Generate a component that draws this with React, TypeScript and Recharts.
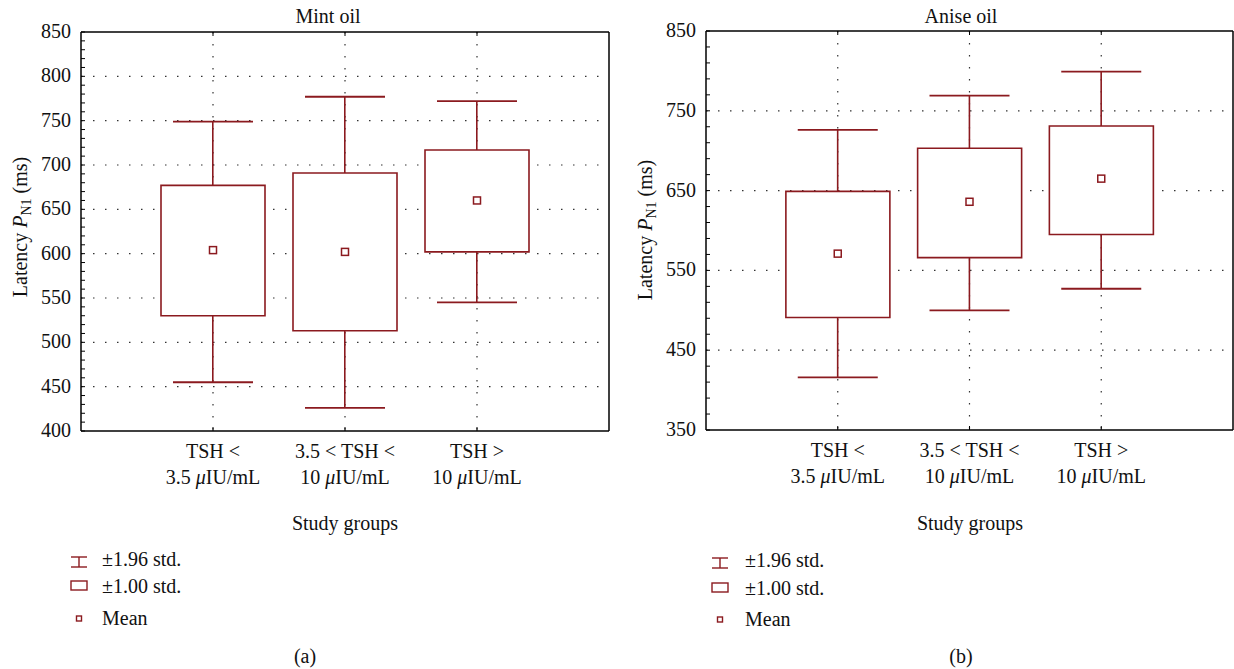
import React from "react";
import { Bar, CartesianGrid, ComposedChart, Scatter, XAxis, YAxis } from "recharts";

// Group positions on the x axis (domain 0..4) and their two-line labels.
const groupX = [1, 2, 3];
const groupLabels = [
  ["TSH <", "3.5 ", "μ", "IU/mL"],
  ["3.5 < TSH <", "10 ", "μ", "IU/mL"],
  ["TSH >", "10 ", "μ", "IU/mL"],
];

// Mint oil: mean, ±1.00 std box, ±1.96 std whiskers (ms).
const mintMean = [604, 602, 660];
const mintStd1Low = [530, 513, 602];
const mintStd1High = [677, 691, 717];
const mintStd196Low = [455, 426, 545];
const mintStd196High = [749, 777, 772];

// Anise oil.
const aniseMean = [571, 636, 665];
const aniseStd1Low = [491, 566, 595];
const aniseStd1High = [649, 703, 731];
const aniseStd196Low = [416, 500, 527];
const aniseStd196High = [726, 769, 799];

const mintTickLabels = [400, 450, 500, 550, 600, 650, 700, 750, 800, 850];
const aniseTickLabels = [350, 450, 550, 650, 750, 850];

const RED = "#8b1a1f";
const FONT = "'Liberation Serif', 'Times New Roman', serif";

function minorTicks(lo: number, hi: number, step: number) {
  const out: number[] = [];
  for (let v = lo; v <= hi; v += step) out.push(v);
  return out;
}

type PanelProps = {
  mean: number[];
  lo1: number[];
  hi1: number[];
  lo196: number[];
  hi196: number[];
  domain: [number, number];
  labels: number[];
  minorStep: number;
  width: number;
  margin: { top: number; right: number; bottom: number; left: number };
};

function Panel({ mean, lo1, hi1, lo196, hi196, domain, labels, minorStep, width, margin }: PanelProps) {
  const data = groupX.map((x, i) => ({ x, box: [lo1[i], hi1[i]], stem: [lo196[i], hi196[i]] }));
  const meanData = groupX.map((x, i) => ({ x, y: mean[i] }));
  const capData = groupX.flatMap((x, i) => [
    { x, y: hi196[i] },
    { x, y: lo196[i] },
  ]);
  const ticks = minorTicks(domain[0], domain[1], minorStep);
  const grid = labels.slice(1, -1);
  const axisLine = { stroke: "#000", strokeWidth: 1.5 };

  const leftTick = (p: any) => {
    const v = p.payload.value;
    return (
      <g>
        <line x1={p.x} x2={p.x + 4} y1={p.y} y2={p.y} stroke="#000" strokeWidth={1} />
        {labels.includes(v) && (
          <text x={p.x - 10} y={p.y + 6} textAnchor="end" fontFamily={FONT} fontSize={20} fill="#111">
            {v}
          </text>
        )}
      </g>
    );
  };
  const rightTick = (p: any) => (
    <line x1={p.x} x2={p.x - 4} y1={p.y} y2={p.y} stroke="#000" strokeWidth={1} />
  );
  const topTick = (p: any) => (
    <line x1={p.x} x2={p.x} y1={p.y} y2={p.y + 4} stroke="#000" strokeWidth={1} />
  );
  const bottomTick = (p: any) => {
    const lab = groupLabels[groupX.indexOf(p.payload.value)];
    return (
      <g>
        <line x1={p.x} x2={p.x} y1={p.y} y2={p.y - 4} stroke="#000" strokeWidth={1} />
        <text x={p.x} y={p.y + 27} textAnchor="middle" fontFamily={FONT} fontSize={20} fill="#111">
          {lab[0]}
        </text>
        <text x={p.x} y={p.y + 53} textAnchor="middle" fontFamily={FONT} fontSize={20} fill="#111">
          {lab[1]}
          <tspan fontStyle="italic">{lab[2]}</tspan>
          {lab[3]}
        </text>
      </g>
    );
  };

  return (
    <ComposedChart width={width} height={500} data={data} margin={margin}>
      <CartesianGrid
        horizontalValues={grid}
        verticalValues={groupX}
        stroke="#333"
        strokeDasharray="1.5 10.5"
        strokeWidth={1.2}
      />
      <XAxis
        dataKey="x"
        type="number"
        domain={[0, 4]}
        ticks={groupX}
        interval={0}
        height={1}
        tickSize={0}
        tickMargin={0}
        tickLine={false}
        tick={bottomTick}
        axisLine={axisLine}
      />
      <XAxis
        xAxisId="top"
        orientation="top"
        dataKey="x"
        type="number"
        domain={[0, 4]}
        ticks={groupX}
        interval={0}
        height={1}
        tickSize={0}
        tickMargin={0}
        tickLine={false}
        tick={topTick}
        axisLine={axisLine}
      />
      <XAxis xAxisId="box" dataKey="x" type="number" domain={[0, 4]} hide />
      <XAxis xAxisId="stem" dataKey="x" type="number" domain={[0, 4]} hide />
      <YAxis
        type="number"
        domain={domain}
        ticks={ticks}
        interval={0}
        width={1}
        tickSize={0}
        tickMargin={0}
        tickLine={false}
        tick={leftTick}
        axisLine={axisLine}
      />
      <YAxis
        yAxisId="right"
        orientation="right"
        type="number"
        domain={domain}
        ticks={ticks}
        interval={0}
        width={1}
        tickSize={0}
        tickMargin={0}
        tickLine={false}
        tick={rightTick}
        axisLine={axisLine}
      />
      <Bar xAxisId="stem" dataKey="stem" barSize={1.6} fill={RED} isAnimationActive={false} />
      <Bar
        xAxisId="box"
        dataKey="box"
        barSize={104}
        fill="#fff"
        stroke={RED}
        strokeWidth={1.6}
        isAnimationActive={false}
      />
      <Scatter
        data={capData}
        dataKey="y"
        isAnimationActive={false}
        shape={(p: any) => (
          <line x1={p.cx - 40} x2={p.cx + 40} y1={p.cy} y2={p.cy} stroke={RED} strokeWidth={1.8} />
        )}
      />
      <Scatter
        data={meanData}
        dataKey="y"
        isAnimationActive={false}
        shape={(p: any) => (
          <rect x={p.cx - 3.5} y={p.cy - 3.5} width={7} height={7} fill="#fff" stroke={RED} strokeWidth={1.5} />
        )}
      />
    </ComposedChart>
  );
}

function YLabel({ x, y }: { x: number; y: number }) {
  return (
    <text x={x} y={y} transform={`rotate(-90 ${x} ${y})`} textAnchor="middle" fontFamily={FONT} fontSize={20} fill="#111">
      Latency <tspan fontStyle="italic">P</tspan>
      <tspan dy={4} fontSize={14}>
        N1
      </tspan>
      <tspan dy={-4}> (ms)</tspan>
    </text>
  );
}

function LegendBlock({ iconX, textX, rows }: { iconX: number; textX: number; rows: number[] }) {
  const t = { fontFamily: FONT, fontSize: 20, fill: "#111" };
  return (
    <g>
      <g stroke={RED} strokeWidth={1.4} fill="none">
        <line x1={iconX - 8} x2={iconX + 8} y1={rows[0] - 9} y2={rows[0] - 9} />
        <line x1={iconX} x2={iconX} y1={rows[0] - 9} y2={rows[0] + 1} />
        <line x1={iconX - 8} x2={iconX + 8} y1={rows[0] + 1} y2={rows[0] + 1} />
        <rect x={iconX - 8} y={rows[1] - 12} width={16} height={9} fill="#fff" />
        <rect x={iconX - 2.5} y={rows[2] - 9} width={5} height={5} fill="#fff" />
      </g>
      <text x={textX} y={rows[0]} {...t}>±1.96 std.</text>
      <text x={textX} y={rows[1]} {...t}>±1.00 std.</text>
      <text x={textX} y={rows[2]} {...t}>Mean</text>
    </g>
  );
}

export default function App() {
  const t = { fontFamily: FONT, fontSize: 20, fill: "#111" };
  return (
    <div style={{ position: "absolute", left: 0, top: 0, width: 1234, height: 669, background: "#fff" }}>
      <div style={{ position: "absolute", left: 0, top: 0 }}>
        <Panel
          mean={mintMean}
          lo1={mintStd1Low}
          hi1={mintStd1High}
          lo196={mintStd196Low}
          hi196={mintStd196High}
          domain={[400, 850]}
          labels={mintTickLabels}
          minorStep={10}
          width={620}
          margin={{ top: 31, right: 10, bottom: 68, left: 80 }}
        />
      </div>
      <div style={{ position: "absolute", left: 620, top: 0 }}>
        <Panel
          mean={aniseMean}
          lo1={aniseStd1Low}
          hi1={aniseStd1High}
          lo196={aniseStd196Low}
          hi196={aniseStd196High}
          domain={[350, 850]}
          labels={aniseTickLabels}
          minorStep={20}
          width={614}
          margin={{ top: 30, right: 0, bottom: 69, left: 85 }}
        />
      </div>
      <svg width={1234} height={669} style={{ position: "absolute", left: 0, top: 0, pointerEvents: "none" }}>
        <text x={328} y={23} textAnchor="middle" {...t}>Mint oil</text>
        <text x={961} y={23} textAnchor="middle" {...t}>Anise oil</text>
        <YLabel x={27} y={227} />
        <YLabel x={652} y={230} />
        <text x={345} y={530} textAnchor="middle" {...t}>Study groups</text>
        <text x={970} y={530} textAnchor="middle" {...t}>Study groups</text>
        <LegendBlock iconX={79} textX={102} rows={[566, 593, 625]} />
        <LegendBlock iconX={720} textX={745} rows={[567, 595, 626]} />
        <text x={305} y={663} textAnchor="middle" {...t}>(a)</text>
        <text x={961} y={663} textAnchor="middle" {...t}>(b)</text>
      </svg>
    </div>
  );
}
